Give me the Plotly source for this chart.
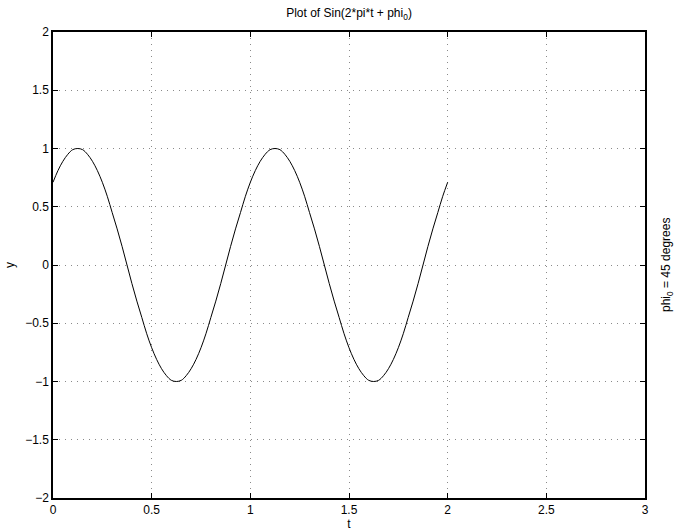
import plotly.graph_objects as go

# Values (t, y)
t_vals = [0.000, 0.025, 0.050, 0.075, 0.100, 0.125, 0.150, 0.175, 0.200, 0.225,
          0.250, 0.275, 0.300, 0.325, 0.350, 0.375, 0.400, 0.425, 0.450, 0.475,
          0.500, 0.525, 0.550, 0.575, 0.600, 0.625, 0.650, 0.675, 0.700, 0.725,
          0.750, 0.775, 0.800, 0.825, 0.850, 0.875, 0.900, 0.925, 0.950, 0.975,
          1.000, 1.025, 1.050, 1.075, 1.100, 1.125, 1.150, 1.175, 1.200, 1.225,
          1.250, 1.275, 1.300, 1.325, 1.350, 1.375, 1.400, 1.425, 1.450, 1.475,
          1.500, 1.525, 1.550, 1.575, 1.600, 1.625, 1.650, 1.675, 1.700, 1.725,
          1.750, 1.775, 1.800, 1.825, 1.850, 1.875, 1.900, 1.925, 1.950, 1.975,
          2.000]
y_vals = [0.71, 0.81, 0.89, 0.95, 0.99, 1.00, 0.99, 0.95, 0.89, 0.81,
          0.71, 0.59, 0.45, 0.31, 0.16, 0.00, -0.16, -0.31, -0.45, -0.59,
          -0.71, -0.81, -0.89, -0.95, -0.99, -1.00, -0.99, -0.95, -0.89, -0.81,
          -0.71, -0.59, -0.45, -0.31, -0.16, 0.00, 0.16, 0.31, 0.45, 0.59,
          0.71, 0.81, 0.89, 0.95, 0.99, 1.00, 0.99, 0.95, 0.89, 0.81,
          0.71, 0.59, 0.45, 0.31, 0.16, 0.00, -0.16, -0.31, -0.45, -0.59,
          -0.71, -0.81, -0.89, -0.95, -0.99, -1.00, -0.99, -0.95, -0.89, -0.81,
          -0.71, -0.59, -0.45, -0.31, -0.16, 0.00, 0.16, 0.31, 0.45, 0.59,
          0.71]

x_ticks = [0, 0.5, 1, 1.5, 2, 2.5, 3]
x_tick_text = ["0", "0.5", "1", "1.5", "2", "2.5", "3"]
y_ticks = [-2, -1.5, -1, -0.5, 0, 0.5, 1, 1.5, 2]
y_tick_text = ["\u22122", "\u22121.5", "\u22121", "\u22120.5", "0", "0.5", "1", "1.5", "2"]

title_text = "Plot of Sin(2*pi*t + phi<sub>0</sub>)"
x_title = "t"
y_title = "y"
side_note = "phi<sub>0</sub> = 45 degrees"

FONT = "Liberation Sans, Arial, Helvetica, sans-serif"

fig = go.Figure()
fig.add_trace(go.Scatter(x=t_vals, y=y_vals, mode="lines",
                         line=dict(color="black", width=1, shape="spline"),
                         showlegend=False, hoverinfo="skip"))

axis_common = dict(
    showline=True, linecolor="black", linewidth=1.5, mirror="allticks",
    ticks="inside", ticklen=5, tickwidth=1, tickcolor="black",
    showgrid=True, gridcolor="#8a8a8a", gridwidth=1, griddash="1px,5px",
    zeroline=False, automargin=False,
    tickfont=dict(family=FONT, size=12, color="black"),
)

fig.update_xaxes(range=[0, 3], tickvals=x_ticks, ticktext=x_tick_text,
                 title=dict(text=x_title, font=dict(family=FONT, size=12, color="black"), standoff=0),
                 **axis_common)
fig.update_yaxes(range=[-2, 2], tickvals=y_ticks, ticktext=y_tick_text,
                 title=dict(text=y_title, font=dict(family=FONT, size=12, color="black"), standoff=8),
                 **axis_common)

fig.update_layout(
    width=681, height=532,
    margin=dict(l=53, r=36, t=32, b=34, pad=0),
    paper_bgcolor="white", plot_bgcolor="white",
    font=dict(family=FONT, size=12, color="black"),
    title=dict(text=title_text, x=0.5, xref="paper", xanchor="center",
               y=1 - 13 / 532, yref="container", yanchor="middle",
               font=dict(family=FONT, size=12, color="black")),
    annotations=[dict(text=side_note, xref="paper", yref="paper",
                      x=1 + 22 / 592, y=0.5, xanchor="center", yanchor="middle",
                      textangle=-90, showarrow=False,
                      font=dict(family=FONT, size=12, color="black"))],
)

fig.write_html("out.html")
